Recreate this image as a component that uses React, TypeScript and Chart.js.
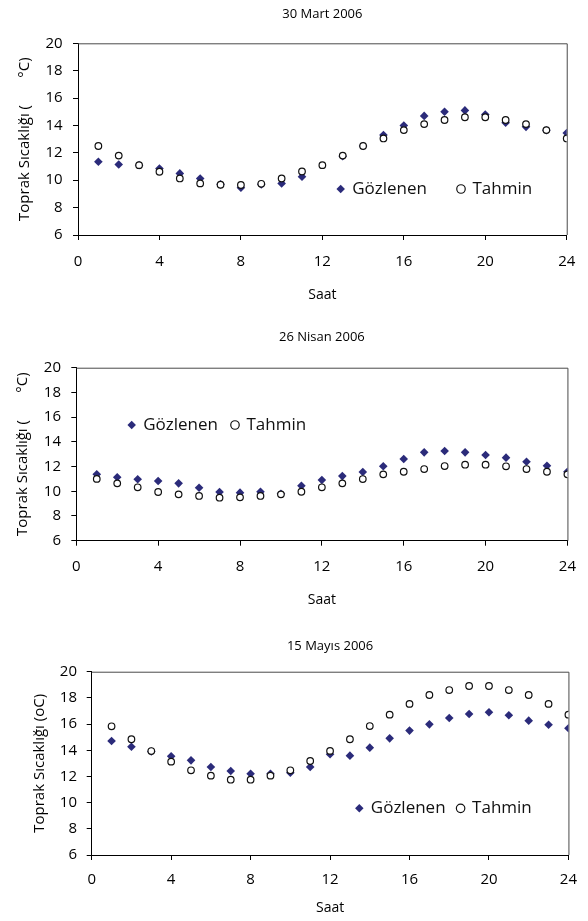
import React, { useEffect, useRef } from "react";
import { Chart, registerables } from "chart.js";

Chart.register(...registerables);

// ---------- data ----------
const hours = [1, 2, 3, 4, 5, 6, 7, 8, 9, 10, 11, 12, 13, 14, 15, 16, 17, 18, 19, 20, 21, 22, 23, 24];
const seriesLabels = ["Gözlenen", "Tahmin"];
const chartTitles = ["30 Mart 2006", "26 Nisan 2006", "15 Mayıs 2006"];
const yTitles = ["Toprak Sıcaklığı (       °C)", "Toprak Sıcaklığı (       °C)", "Toprak Sıcaklığı (oC)"];
const xTitle = "Saat";
const xTicks = { min: 0, max: 24, step: 4 };
const yTicks = { min: 6, max: 20, step: 2 };

const observedMart = [11.35, 11.15, 11.1, 10.85, 10.5, 10.13, 9.7, 9.45, 9.7, 9.77, 10.25, null, 11.75, 12.5, 13.3, 14.0, 14.7, 15.0, 15.1, 14.8, 14.2, 13.9, 13.65, 13.45];
const predictedMart = [12.5, 11.8, 11.1, 10.62, 10.13, 9.77, 9.67, 9.65, 9.74, 10.13, 10.64, 11.1, 11.8, 12.5, 13.05, 13.66, 14.1, 14.4, 14.6, 14.6, 14.4, 14.1, 13.66, 13.05];

const observedNisan = [11.37, 11.13, 10.97, 10.83, 10.64, 10.29, 9.94, 9.89, 9.96, 9.8, 10.45, 10.91, 11.23, 11.56, 12.02, 12.61, 13.15, 13.26, 13.15, 12.93, 12.72, 12.39, 12.07, 11.58];
const predictedNisan = [11.0, 10.64, 10.32, 9.94, 9.75, 9.62, 9.48, 9.51, 9.62, 9.75, 9.96, 10.32, 10.64, 10.99, 11.37, 11.58, 11.8, 12.04, 12.15, 12.15, 12.02, 11.8, 11.58, 11.37];

const observedMayis = [14.71, 14.27, 13.9, 13.54, 13.23, 12.72, 12.42, 12.21, 12.21, 12.29, 12.72, 13.7, 13.59, 14.2, 14.91, 15.5, 15.98, 16.47, 16.77, 16.9, 16.67, 16.26, 15.95, 15.68];
const predictedMayis = [15.83, 14.84, 13.94, 13.13, 12.47, 12.06, 11.75, 11.75, 12.06, 12.47, 13.18, 13.95, 14.84, 15.85, 16.72, 17.54, 18.22, 18.6, 18.91, 18.91, 18.6, 18.22, 17.54, 16.72];

// ---------- layout / style ----------
const FONT = "'Open Sans', 'Noto Sans', sans-serif";
const OBS_COLOR = "#2b2b7a";

type Cfg = {
  top: number; height: number; title: string; yTitle: string;
  obs: (number | null)[]; pred: number[];
  padTop: number; titleGap: number; padRight: number;
  yWidth: number; yTickPad: number; yTitlePad: number;
  xHeight: number; xTickPad: number; xTitlePad: number;
  legendX: number; legendY: number; legendPad: number;
};

const configs: Cfg[] = [
  {
    top: 0, height: 307, title: chartTitles[0], yTitle: yTitles[0], obs: observedMart, pred: predictedMart,
    padTop: 6.2, titleGap: 21.5, padRight: 20.5, yWidth: 78, yTickPad: 10.3, yTitlePad: 16,
    xHeight: 72, xTickPad: 12.7, xTitlePad: 3.6, legendX: 340.7, legendY: 189, legendPad: 31,
  },
  {
    top: 307, height: 307, title: chartTitles[1], yTitle: yTitles[1], obs: observedNisan, pred: predictedNisan,
    padTop: 22.5, titleGap: 22.6, padRight: 20.3, yWidth: 76.3, yTickPad: 10.3, yTitlePad: 13.3,
    xHeight: 73.3, xTickPad: 12, xTitlePad: 5.6, legendX: 131.7, legendY: 118, legendPad: 14,
  },
  {
    top: 614, height: 307, title: chartTitles[2], yTitle: yTitles[2], obs: observedMayis, pred: predictedMayis,
    padTop: 24.2, titleGap: 17.9, padRight: 16, yWidth: 91.7, yTickPad: 9.7, yTitlePad: 30.3,
    xHeight: 66, xTickPad: 11, xTitlePad: 4.6, legendX: 359.3, legendY: 194.3, legendPad: 12,
  },
];

const LEGEND_FONT = 17;
const LEGEND_BOX = 6;

const framePlugin = {
  id: "frameLines",
  beforeDatasetsDraw(chart: any) {
    const { ctx, chartArea } = chart;
    const { left, right, top, bottom } = chartArea;
    ctx.save();
    ctx.strokeStyle = "#4a4a4a";
    ctx.lineWidth = 1;
    ctx.beginPath();
    ctx.moveTo(left, top + 0.5);
    ctx.lineTo(right + 0.5, top + 0.5);
    ctx.lineTo(right + 0.5, bottom);
    ctx.stroke();
    ctx.restore();
  },
};

const legendPlacePlugin = {
  id: "legendPlace",
  beforeDraw(chart: any, _args: any, opts: any) {
    const lg = chart.legend;
    if (!lg) return;
    const pad = lg.options.labels.padding;
    const left = opts.x - pad - LEGEND_BOX / 2;
    const top = opts.y - pad - LEGEND_FONT / 2;
    lg.left = left;
    lg.top = top;
    lg.right = left + 400;
    lg.bottom = top + pad * 2 + LEGEND_FONT + 10;
    lg.width = 400;
    lg.height = lg.bottom - top;
  },
};

function TempChart({ cfg }: { cfg: Cfg }) {
  const ref = useRef<HTMLCanvasElement>(null);
  useEffect(() => {
    const canvas = ref.current;
    if (!canvas) return;
    const chart = new Chart(canvas, {
      type: "scatter",
      data: {
        datasets: [
          {
            label: seriesLabels[0],
            data: hours.map((h, i) => ({ x: h, y: cfg.obs[i] })) as any,
            pointStyle: "rectRot",
            pointRadius: 4.3,
            pointHoverRadius: 4.3,
            backgroundColor: OBS_COLOR,
            borderColor: OBS_COLOR,
            borderWidth: 0,
            order: 2,
          },
          {
            label: seriesLabels[1],
            data: hours.map((h, i) => ({ x: h, y: cfg.pred[i] })),
            pointStyle: "circle",
            pointRadius: 3.3,
            pointHoverRadius: 3.3,
            backgroundColor: "#ffffff",
            borderColor: "#111111",
            borderWidth: 1.2,
            order: 1,
          },
        ],
      },
      options: {
        responsive: false,
        animation: false,
        events: [],
        layout: { padding: { top: cfg.padTop, right: cfg.padRight, left: 0, bottom: 0 } },
        plugins: {
          title: {
            display: true,
            text: cfg.title,
            fullSize: false,
            color: "#000",
            font: { family: FONT, size: 13, weight: "normal" },
            padding: { top: 0, bottom: cfg.titleGap },
          },
          legend: {
            display: true,
            position: "top",
            align: "start",
            maxHeight: 0.01,
            labels: {
              usePointStyle: true,
              boxWidth: LEGEND_BOX,
              boxHeight: LEGEND_BOX,
              padding: cfg.legendPad,
              color: "#111",
              font: { family: FONT, size: LEGEND_FONT },
              sort: (a: any, b: any) => a.datasetIndex - b.datasetIndex,
            },
          },
          tooltip: { enabled: false },
          legendPlace: { x: cfg.legendX, y: cfg.legendY },
        } as any,
        scales: {
          x: {
            type: "linear",
            min: xTicks.min,
            max: xTicks.max,
            ticks: {
              stepSize: xTicks.step,
              padding: cfg.xTickPad,
              color: "#000",
              maxRotation: 0,
              font: { family: FONT, size: 15 },
            },
            grid: { drawOnChartArea: false, drawTicks: true, tickLength: 5, color: "#000" },
            border: { display: true, color: "#000", width: 1 },
            title: {
              display: true,
              text: xTitle,
              color: "#000",
              font: { family: FONT, size: 14 },
              padding: { top: 0, bottom: cfg.xTitlePad },
            },
            afterFit: (s: any) => { s.height = cfg.xHeight; },
          },
          y: {
            type: "linear",
            min: yTicks.min,
            max: yTicks.max,
            ticks: {
              stepSize: yTicks.step,
              padding: cfg.yTickPad,
              color: "#000",
              font: { family: FONT, size: 15 },
            },
            grid: { drawOnChartArea: false, drawTicks: true, tickLength: 5, color: "#000" },
            border: { display: true, color: "#000", width: 1 },
            title: {
              display: true,
              text: cfg.yTitle,
              color: "#000",
              font: { family: FONT, size: 15 },
              padding: { top: cfg.yTitlePad, bottom: 0 },
            },
            afterFit: (s: any) => { s.width = cfg.yWidth; },
          },
        },
      } as any,
      plugins: [framePlugin, legendPlacePlugin],
    });
    return () => chart.destroy();
  }, [cfg]);
  return (
    <canvas
      ref={ref}
      width={588}
      height={cfg.height}
      style={{ position: "absolute", left: 0, top: cfg.top, display: "block" }}
    />
  );
}

export default function App() {
  return (
    <div style={{ position: "absolute", left: 0, top: 0, width: 588, height: 921, background: "#fff" }}>
      {configs.map((c, i) => (
        <TempChart key={i} cfg={c} />
      ))}
    </div>
  );
}
